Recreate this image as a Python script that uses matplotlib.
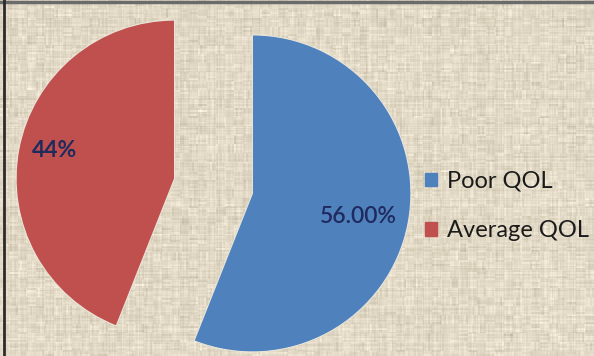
import numpy as np
import matplotlib.pyplot as plt
from matplotlib.patches import Rectangle

# QOL split
labels = ['Poor QOL', 'Average QOL']
shares = [56.0, 44.0]
pct_text = ['56.00%', '44%']
colors = ['#4f81bd', '#c0504d']

plt.rcParams['font.family'] = ['Lato', 'DejaVu Sans']

fig = plt.figure(figsize=(5.94, 3.56), dpi=100)

# linen-like backdrop
h, w = 356, 594
rng = np.random.default_rng(7)
base = np.array([226, 218, 198], dtype=float) / 255
rows = rng.normal(0, 0.012, h)
cols = rng.normal(0, 0.012, w)
dash_h = np.kron(rng.normal(0, 0.018, (h // 2 + 1, w // 9 + 1)), np.ones((2, 9)))[:h, :w]
dash_v = np.kron(rng.normal(0, 0.018, (h // 9 + 1, w // 2 + 1)), np.ones((9, 2)))[:h, :w]
tex = rows[:, None] + cols[None, :] + dash_h + dash_v
bg = np.clip(base[None, None, :] + tex[:, :, None] * np.array([1.0, 1.0, 1.1]), 0, 1)
bg_ax = fig.add_axes([0, 0, 1, 1])
bg_ax.imshow(bg, aspect='auto', interpolation='bilinear')
bg_ax.axis('off')

# frame on top and left
fig.add_artist(plt.Line2D([0, 1], [0.993, 0.993], color='#6b6b6b', lw=2.5))
fig.add_artist(plt.Line2D([0.006, 0.006], [0, 1], color='#2b2b2b', lw=2))

ax = fig.add_axes([0, 0, 1, 1])
ax.set_facecolor('none')

wedges, _ = ax.pie(shares, colors=colors, startangle=90, counterclock=False,
                   explode=(0.25, 0.25), radius=1,
                   wedgeprops=dict(edgecolor='#eae5da', linewidth=0.8))

r_px = 158.5
cx, cy = 213.5, 186.0
ax.set_xlim(-cx / r_px, (w - cx) / r_px)
ax.set_ylim(-(h - cy) / r_px, cy / r_px)
ax.set_aspect('equal')
ax.axis('off')

# percentage labels inside each slice
dists = [0.685, 0.78]
turns = [-1.4, -2.2]
weights = ['semibold', 'bold']
for wdg, txt, d, t, fw in zip(wedges, pct_text, dists, turns, weights):
    mid = np.deg2rad((wdg.theta1 + wdg.theta2) / 2 + t)
    x0, y0 = wdg.center
    ax.text(x0 + d * np.cos(mid), y0 + d * np.sin(mid), txt,
            ha='center', va='center', fontsize=16.5, fontweight=fw, color='#1f2a5e')

handles = [Rectangle((0, 0), 1, 1, color=c) for c in colors]
ax.legend(handles, labels, loc='center left', bbox_to_anchor=(0.7155, 0.421),
          bbox_transform=fig.transFigure,
          frameon=False, fontsize=17, handlelength=0.5, handleheight=0.5,
          handletextpad=0.45, labelspacing=1.2, borderpad=0, borderaxespad=0,
          labelcolor='#1a1a1a')

fig.savefig('out.png', dpi=100)
